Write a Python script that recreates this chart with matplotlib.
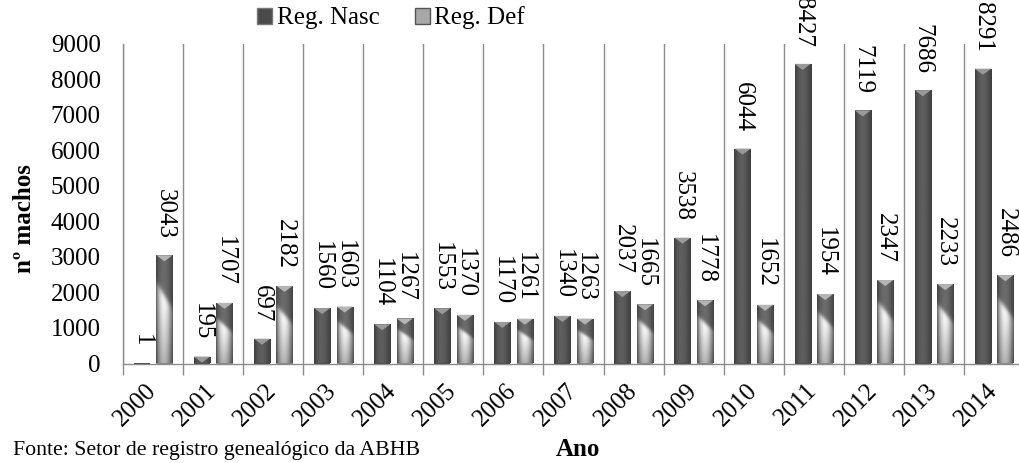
import numpy as np
import matplotlib
matplotlib.use("Agg")
import matplotlib.pyplot as plt
from matplotlib.patches import Patch, Polygon

plt.rcParams['font.family'] = ['Liberation Serif', 'DejaVu Serif']

# dados
anos = ['2000', '2001', '2002', '2003', '2004', '2005', '2006', '2007',
        '2008', '2009', '2010', '2011', '2012', '2013', '2014']
reg_nasc = [1, 195, 697, 1560, 1104, 1553, 1170, 1340, 2037, 3538, 6044,
            8427, 7119, 7686, 8291]
reg_def = [3043, 1707, 2182, 1603, 1267, 1370, 1261, 1263, 1665, 1778,
           1652, 1954, 2347, 2233, 2486]

W, H = 1019, 463


def sombra_nasc(nx=40):
    u = np.linspace(0, 1, nx)
    g = 0.24 + 0.13 * np.sin(np.pi * u ** 0.85)
    return np.tile(g, (2, 1))


def sombra_def(nx=40, ny=120):
    u = np.linspace(0, 1, nx)[None, :]
    v = np.linspace(1, 0, ny)[:, None]
    borda = np.sin(np.pi * u ** 0.9)
    limite = 0.74 - 0.24 * u
    t = 1 / (1 + np.exp(-(v - limite) / 0.02))
    escuro = 0.26 + 0.16 * borda
    claro = (0.40 + 0.60 * borda) * (0.70 + 0.30 * np.clip(v / limite, 0, 1))
    return t * escuro + (1 - t) * claro


fig = plt.figure(figsize=(W / 100, H / 100), dpi=100)
ax = fig.add_axes([123 / W, 99.5 / H, 901 / W, 320 / H])

x = np.arange(len(anos))
largura = 0.27
ymax = 9000
px_y = ymax / 320.0  # unidades por pixel

barras_n = ax.bar(x - 0.185, reg_nasc, largura, color='#444444', zorder=2)
barras_d = ax.bar(x + 0.19, reg_def, largura, color='#888888', zorder=2)

for barras, img, cor_bisel in [(barras_n, sombra_nasc(), '#9a9a9a'),
                               (barras_d, sombra_def(), '#b4b4b4')]:
    for b in barras:
        x0, h, w = b.get_x(), b.get_height(), b.get_width()
        if h <= 0:
            continue
        im = ax.imshow(img, cmap='gray', vmin=0, vmax=1, aspect='auto',
                       extent=(x0, x0 + w, 0, h), interpolation='bilinear',
                       zorder=2.5)
        im.set_clip_path(b)
        bis = min(6 * px_y, h)
        ax.add_patch(Polygon([(x0, h), (x0 + w, h), (x0 + w / 2, h - bis)],
                             closed=True, facecolor=cor_bisel,
                             edgecolor='none', zorder=3))

# rótulos de dados
for barras, vals in [(barras_n, reg_nasc), (barras_d, reg_def)]:
    for b, v in zip(barras, vals):
        ax.annotate(str(v), (b.get_x() + b.get_width() / 2, v),
                    xytext=(0, 12), textcoords='offset points',
                    rotation=-90, rotation_mode='anchor',
                    ha='right', va='center', fontsize=18,
                    annotation_clip=False, zorder=4)

ax.set_xlim(-0.5, len(anos) - 0.5)
ax.set_ylim(0, ymax)

ax.set_xticks(np.arange(len(anos) + 1) - 0.5, [''] * (len(anos) + 1))
ax.set_xticks(x, anos, minor=True)
ax.tick_params(axis='x', which='major', length=8, color='#8c8c8c', width=1)
ax.tick_params(axis='x', which='minor', length=0, pad=17, labelsize=18)
for lab in ax.get_xticklabels(minor=True):
    lab.set_rotation(45)
    lab.set_ha('right')
    lab.set_rotation_mode('anchor')
    lab.set_va('center')

ax.set_yticks(np.arange(0, ymax + 1, 1000))
ax.tick_params(axis='y', length=0, pad=16, labelsize=18)
ax.grid(axis='x', which='major', color='#8c8c8c', lw=1.0, zorder=1)
ax.set_axisbelow(True)

for s in ['top', 'right']:
    ax.spines[s].set_visible(False)
for s in ['left', 'bottom']:
    ax.spines[s].set_color('#8c8c8c')
    ax.spines[s].set_linewidth(1.0)

fig.text(25 / W, 1 - 219 / H, 'nº machos', rotation=90, fontsize=18,
         fontweight='bold', ha='center', va='center')
fig.text(578 / W, 1 - 450 / H, 'Ano', fontsize=18, fontweight='bold',
         ha='center', va='center')
fig.text(13 / W, 1 - 455 / H, 'Fonte: Setor de registro genealógico da ABHB',
         fontsize=15.7, ha='left', va='baseline')

handles = [Patch(facecolor='#4a4a4a', edgecolor='#777777'),
           Patch(facecolor='#a8a8a8', edgecolor='#555555')]
fig.legend(handles, ['Reg. Nasc', 'Reg. Def'], loc='center',
           bbox_to_anchor=(391 / W, 1 - 18 / H), ncol=2, frameon=False,
           fontsize=18, handlelength=0.6, handleheight=0.6,
           handletextpad=0.2, columnspacing=1.4)

fig.savefig('out.png', dpi=100)
